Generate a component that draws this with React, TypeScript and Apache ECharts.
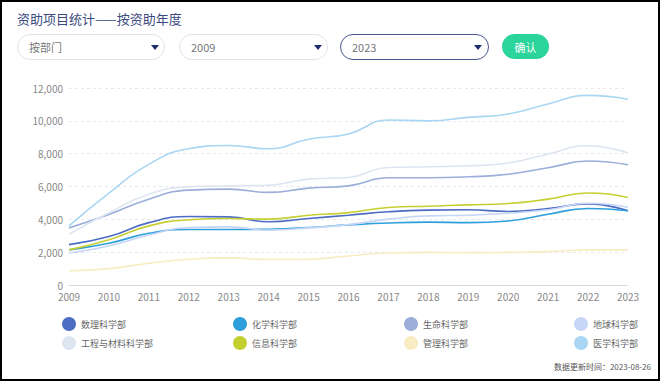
import React, { useEffect, useRef } from "react";
import * as echarts from "echarts";

const years = ["2009","2010","2011","2012","2013","2014","2015","2016","2017","2018","2019","2020","2021","2022","2023"];
const yTicks = [0, 2000, 4000, 6000, 8000, 10000, 12000];

const shuli = [2460, 2950, 3800, 4170, 4150, 3850, 4050, 4250, 4460, 4560, 4580, 4480, 4660, 4940, 4520];
const huaxue = [2140, 2540, 3150, 3380, 3380, 3400, 3500, 3660, 3780, 3830, 3800, 3900, 4310, 4660, 4520];
const shengming = [3480, 4300, 5230, 5780, 5840, 5640, 5900, 6040, 6530, 6530, 6590, 6750, 7140, 7550, 7320];
const diqiu = [1950, 2380, 3050, 3500, 3540, 3340, 3480, 3680, 4010, 4210, 4250, 4370, 4580, 4980, 4740];
const gongcheng = [3090, 4400, 5530, 5980, 6040, 6080, 6450, 6550, 7160, 7200, 7260, 7430, 7980, 8480, 8040];
const xinxi = [2140, 2750, 3600, 3970, 4050, 4010, 4250, 4410, 4720, 4800, 4880, 4960, 5230, 5600, 5330];
const guanli = [870, 1000, 1320, 1570, 1650, 1550, 1570, 1770, 1950, 1990, 1970, 1990, 2030, 2140, 2140];
const yixue = [3600, 5600, 7350, 8300, 8500, 8300, 8880, 9200, 10050, 10000, 10210, 10420, 11030, 11550, 11320];

const seriesNames = ["数理科学部", "化学科学部", "生命科学部", "地球科学部", "工程与材料科学部", "信息科学部", "管理科学部", "医学科学部"];
const seriesData = [shuli, huaxue, shengming, diqiu, gongcheng, xinxi, guanli, yixue];
const seriesColors = ["#4d6cc4", "#2e9fdb", "#9aaed9", "#c6d6f6", "#dde5f1", "#c6cf30", "#f8ecc2", "#a9d6f2"];

const FONT = "'Noto Sans CJK SC', 'Noto Sans', sans-serif";

export default function App() {
  const ref = useRef<HTMLDivElement>(null);
  useEffect(() => {
    if (!ref.current) return;
    const chart = echarts.init(ref.current, undefined, { renderer: "svg" });
    const colLeft = [62, 233, 404, 574];
    const rowTop = [317, 336];
    const legends = seriesNames.map((name, i) => ({
      data: [name],
      left: colLeft[i % 4],
      top: rowTop[Math.floor(i / 4)],
      icon: "circle",
      itemWidth: 14,
      itemHeight: 14,
      itemGap: 0,
      padding: 0,
      textStyle: { color: "#666", fontSize: 9, fontFamily: FONT },
    }));
    chart.setOption({
      animation: false,
      textStyle: { fontFamily: FONT },
      grid: { left: 69, right: 36, top: 88, bottom: 98 },
      legend: legends,
      xAxis: {
        type: "category",
        data: years,
        boundaryGap: false,
        axisLine: { lineStyle: { color: "#d9dbe3" } },
        axisTick: { show: false },
        axisLabel: { color: "#888", fontSize: 10, margin: 6, fontFamily: FONT, interval: 0 },
      },
      yAxis: {
        type: "value",
        min: yTicks[0],
        max: yTicks[yTicks.length - 1],
        interval: 2000,
        axisLine: { show: false },
        axisTick: { show: false },
        axisLabel: {
          color: "#888",
          fontSize: 10,
          margin: 6,
          fontFamily: FONT,
          formatter: (v: number) => v.toLocaleString("en-US"),
        },
        splitLine: { lineStyle: { color: "#e6e9f2", type: [3, 3] } },
      },
      graphic: [
        {
          type: "text",
          right: 13,
          top: 362,
          style: { text: "数据更新时间：2023-08-26", fill: "#555", fontSize: 8, fontFamily: FONT },
        },
      ],
      series: seriesNames.map((name, i) => ({
        name,
        type: "line",
        data: seriesData[i],
        smooth: true,
        symbol: "none",
        lineStyle: { width: 1.6, color: seriesColors[i] },
        itemStyle: { color: seriesColors[i] },
      })),
    });
    return () => chart.dispose();
  }, []);

  const selectBase: React.CSSProperties = {
    position: "absolute",
    top: 34,
    height: 26,
    boxSizing: "border-box",
    borderRadius: 13,
    border: "1px solid #e2e3e8",
    background: "#fff",
    fontSize: 11,
    color: "#777",
    fontFamily: FONT,
    display: "flex",
    alignItems: "center",
    paddingLeft: 11,
  };
  const arrow = (left: number): React.CSSProperties => ({
    position: "absolute",
    left,
    top: 10,
    width: 0,
    height: 0,
    borderLeft: "4.5px solid transparent",
    borderRight: "4.5px solid transparent",
    borderTop: "5px solid #1f2d6b",
  });

  return (
    <div style={{ position: "fixed", left: 0, top: 0, width: 664, height: 383, background: "#fff", overflow: "hidden" }}>
      <div ref={ref} style={{ position: "absolute", left: 0, top: 0, width: 664, height: 383 }} />
      <div
        style={{
          position: "absolute",
          left: 0,
          top: 0,
          width: 660,
          height: 381,
          boxSizing: "border-box",
          border: "2px solid #000",
          pointerEvents: "none",
        }}
      />
      <div style={{ position: "absolute", left: 17, top: 10, fontSize: 13, color: "#3a4a80", fontFamily: FONT, lineHeight: "18px" }}>
        资助项目统计——按资助年度
      </div>
      <div style={{ ...selectBase, left: 17, width: 148 }}>
        按部门
        <div style={arrow(133)} />
      </div>
      <div style={{ ...selectBase, left: 179, width: 149 }}>
        2009
        <div style={arrow(134)} />
      </div>
      <div style={{ ...selectBase, left: 340, width: 149, border: "1px solid #4a5590" }}>
        2023
        <div style={arrow(133)} />
      </div>
      <div
        style={{
          position: "absolute",
          left: 502,
          top: 34,
          width: 47,
          height: 25,
          borderRadius: 13,
          background: "#2bd49a",
          color: "#fff",
          fontSize: 11,
          fontFamily: FONT,
          display: "flex",
          alignItems: "center",
          justifyContent: "center",
        }}
      >
        确认
      </div>
    </div>
  );
}
